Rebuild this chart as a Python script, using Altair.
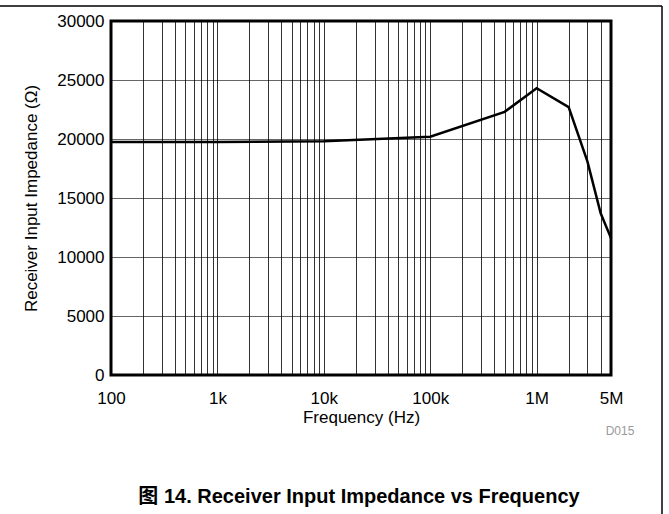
import altair as alt
import pandas as pd

# Receiver input impedance measured across frequency
freq_hz = [100, 1000, 10000, 100000, 500000, 1000000, 2000000, 3000000, 4000000, 5000000]
impedance_ohm = [19750, 19750, 19800, 20200, 22300, 24300, 22700, 18100, 13700, 11600]

# Axis ticks and labels
x_label_values = [100, 1000, 10000, 100000, 1000000, 5000000]
x_label_text = ["100", "1k", "10k", "100k", "1M", "5M"]
y_ticks = [0, 5000, 10000, 15000, 20000, 25000, 30000]
x_grid = [m * 10 ** e for e in range(2, 7) for m in range(1, 10) if m * 10 ** e <= 5000000]

caption_text = ["图 14. Receiver Input Impedance vs Frequency"]
figure_id = ["D015"]

FONT = "Liberation Sans, Arial, Noto Sans CJK SC, sans-serif"

label_expr = " : ".join(
    f"datum.value == {v} ? '{t}'" for v, t in zip(x_label_values, x_label_text)
) + " : ''"

df = pd.DataFrame({"freq": freq_hz, "imp": impedance_ohm})

x_enc = alt.X(
    "freq:Q",
    scale=alt.Scale(type="log", domain=[100, 5000000], nice=False),
    axis=alt.Axis(
        values=x_grid,
        labelExpr=label_expr,
        grid=True,
        gridColor="#000000",
        gridOpacity=0.8,
        gridWidth=1,
        ticks=False,
        domain=False,
        labelFont=FONT,
        labelFontSize=17,
        labelColor="#000000",
        labelPadding=15,
        labelFlush=False,
        labelOverlap=False,
        title="Frequency (Hz)",
        titleFont=FONT,
        titleFontSize=17,
        titleFontWeight="normal",
        titleColor="#000000",
        titlePadding=3,
    ),
)

y_enc = alt.Y(
    "imp:Q",
    scale=alt.Scale(domain=[0, 30000], nice=False),
    axis=alt.Axis(
        values=y_ticks,
        format="d",
        grid=True,
        gridColor="#000000",
        gridOpacity=0.6,
        gridWidth=1,
        ticks=False,
        domain=False,
        labelFont=FONT,
        labelFontSize=17,
        labelColor="#000000",
        labelPadding=7,
        title="Receiver Input Impedance (Ω)",
        titleFont=FONT,
        titleFontSize=17,
        titleFontWeight="normal",
        titleColor="#000000",
        titlePadding=16,
    ),
)

curve = alt.Chart(df).mark_line(color="#000000", strokeWidth=2.5).encode(x=x_enc, y=y_enc)

one = pd.DataFrame({"k": [0]})

# Outer frame (top and right edges)
frame_top = alt.Chart(one).mark_rule(color="#000000", strokeWidth=1.5).encode(
    x=alt.value(-111), x2=alt.value(551), y=alt.value(-15)
)
frame_right = alt.Chart(one).mark_rule(color="#000000", strokeWidth=1.5).encode(
    x=alt.value(551), y=alt.value(-15), y2=alt.value(495)
)

id_label = alt.Chart(pd.DataFrame({"t": figure_id})).mark_text(
    font=FONT, fontSize=12, color="#999999", align="center", baseline="middle"
).encode(x=alt.value(509), y=alt.value(410), text="t:N")

caption = alt.Chart(pd.DataFrame({"t": caption_text})).mark_text(
    font=FONT, fontSize=20, fontWeight="bold", color="#000000", align="center", baseline="middle"
).encode(x=alt.value(248), y=alt.value(476), text="t:N")

chart = (
    alt.layer(curve, frame_top, frame_right, id_label, caption)
    .properties(
        width=500,
        height=354,
        autosize=alt.AutoSizeParams(type="none"),
        padding={"left": 111, "top": 21, "right": 58, "bottom": 139},
        background="white",
    )
    .configure_view(stroke="#000000", strokeWidth=3)
)

chart.save("out.html", embed_options={"renderer": "svg", "actions": False})
